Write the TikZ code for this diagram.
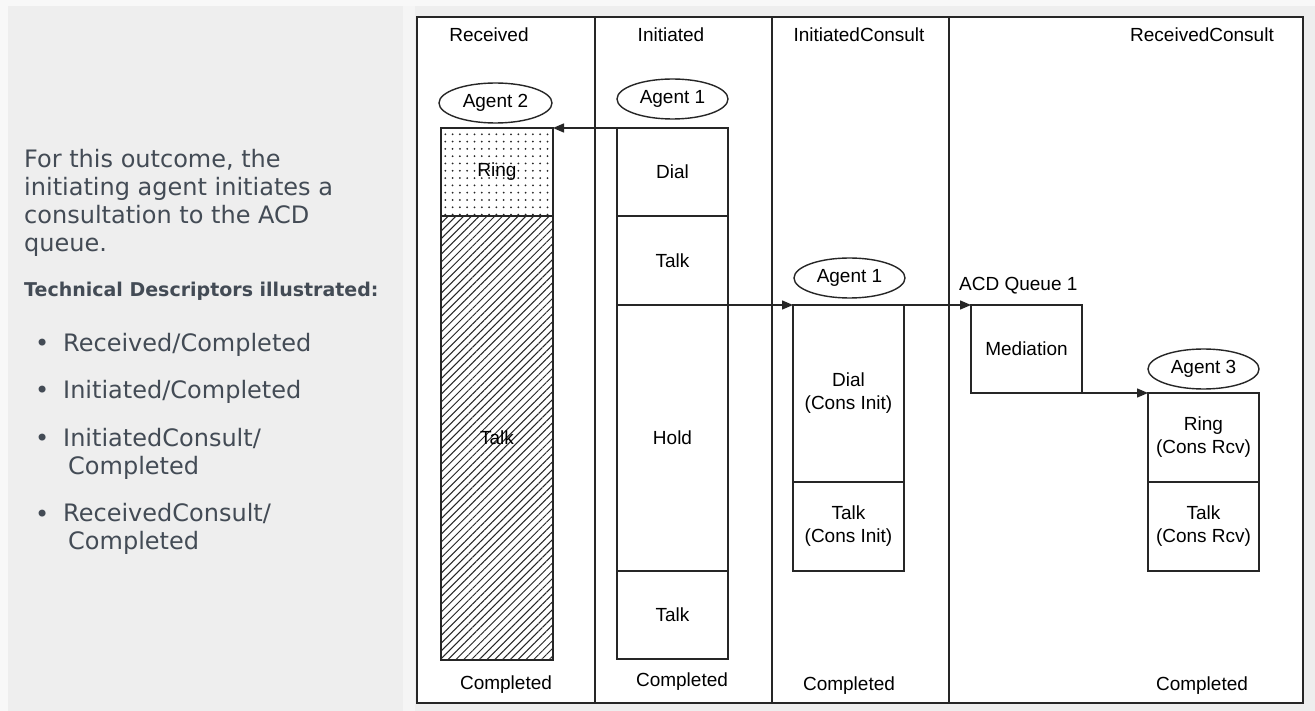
\documentclass[tikz,border=0pt]{standalone}
\usepackage{fontspec}
\setmainfont{Liberation Sans}
\newfontfamily\pagefont{DejaVu Sans}
\usepackage{tikz}
\usetikzlibrary{shapes,arrows.meta,positioning,patterns.meta}

\definecolor{panelgray}{HTML}{EEEEEE}
\definecolor{pagetext}{HTML}{434B55}
\definecolor{linegray}{HTML}{262626}

\begin{document}
\begin{tikzpicture}[
    x=1pt, y=-1pt,
    font=\fontsize{19}{23}\selectfont,
    seg/.style={draw=linegray, line width=1.4pt, minimum width=111pt, inner sep=0pt, outer sep=0pt, align=center},
    agent/.style={ellipse, draw=linegray, line width=1.4pt, minimum width=111pt, minimum height=40pt, inner sep=0pt},
    flow/.style={-{Triangle[length=11pt,width=9pt]}, line width=1.4pt, draw=linegray},
    pagetxt/.style={text=pagetext, font=\pagefont\fontsize{24}{28}\selectfont, align=left, inner sep=0pt, anchor=base west}
]

% page background
\useasboundingbox (0,0) rectangle (1315,711);
\fill [panelgray!40] (0,0) rectangle (1315,711);
\fill [panelgray] (8,6) rectangle (1315,711);
\fill [panelgray!60] (403,6) rectangle (415,711);

% text on the left (base = last line)
\node [pagetxt] (intro) at (24,252) {For this outcome, the\\initiating agent initiates a\\consultation to the ACD\\queue.};
\node [pagetxt, font=\pagefont\bfseries\fontsize{19}{23}\selectfont] (techhead) at (24,297) {Technical Descriptors illustrated:};
\node [pagetxt] (dot1) at (35,352) {•};
\node [pagetxt] (item1) at (63,352) {Received/Completed};
\node [pagetxt] (dot2) at (35,399) {•};
\node [pagetxt] (item2) at (63,399) {Initiated/Completed};
\node [pagetxt] (dot3) at (35,446) {•};
\node [pagetxt] (item3) at (63,474) {InitiatedConsult/\\\hspace*{5pt}Completed};
\node [pagetxt] (dot4) at (35,522) {•};
\node [pagetxt] (item4) at (63,549) {ReceivedConsult/\\\hspace*{5pt}Completed};

% diagram frame and columns
\fill [white] (417,17) rectangle (1303,703);
\foreach \xx in {595,772,949}
    \draw [line width=1.8pt, linegray] (\xx,17) -- (\xx,703);
\draw [line width=1.8pt, linegray] (417,17) rectangle (1303,703);

% column headers and footers
\foreach \nm/\xx/\txt in {hrcv/489/Received, hini/671/Initiated, hicon/859/InitiatedConsult, hrcon/1202/ReceivedConsult}
    \node [anchor=base] (\nm) at (\xx,42) {\txt};
\foreach \nm/\xx/\yy in {frcv/506/689, fini/682/686, ficon/849/690, frcon/1202/690}
    \node [anchor=base] (\nm) at (\xx,\yy) {Completed};

% Received
\node [agent, minimum width=113pt] (ag2) at (495.5,103) {Agent 2};
\node [seg, minimum width=112pt, minimum height=88pt, pattern={Dots[distance=7.3pt, radius=1pt]}, pattern color=linegray] (ring) at (497,172) {Ring};
\node [seg, minimum width=112pt, minimum height=444pt, below=0pt of ring, pattern={Lines[angle=45, distance=5.5pt, line width=1pt]}, pattern color=linegray] (talkrcv) {Talk};

% Initiated
\node [agent] (ag1) at (672.5,99) {Agent 1};
\node [seg, minimum height=88pt] (dial) at (672.5,172) {Dial};
\node [seg, minimum height=89pt, below=0pt of dial] (talka) {Talk};
\node [seg, minimum height=266pt, below=0pt of talka] (hold) {Hold};
\node [seg, minimum height=88pt, below=0pt of hold] (talkb) {Talk};

% InitiatedConsult
\node [agent] (ag1c) at (849.5,278) {Agent 1};
\node [seg, minimum height=177pt, anchor=north west] (cdial) at (793,305) {Dial\\(Cons Init)};
\node [seg, minimum height=89pt, below=0pt of cdial] (ctalk) {Talk\\(Cons Init)};

% ReceivedConsult
\node [anchor=base west, inner sep=0pt] (acdq) at (959,291) {ACD Queue 1};
\node [seg, minimum height=88pt, anchor=north west] (med) at (971,305) {Mediation};
\node [agent] (ag3) at (1203.5,369) {Agent 3};
\node [seg, minimum height=89pt, anchor=north west] (rring) at (1148,393) {Ring\\(Cons Rcv)};
\node [seg, minimum height=89pt, below=0pt of rring] (rtalk) {Talk\\(Cons Rcv)};

% call flow
\draw [flow] (dial.north west) -- (ring.north east);
\draw [flow] (talka.south east) -- (cdial.north west);
\draw [flow] (cdial.north east) -- (med.north west);
\draw [flow] (med.south east) -- (rring.north west);

\end{tikzpicture}
\end{document}
